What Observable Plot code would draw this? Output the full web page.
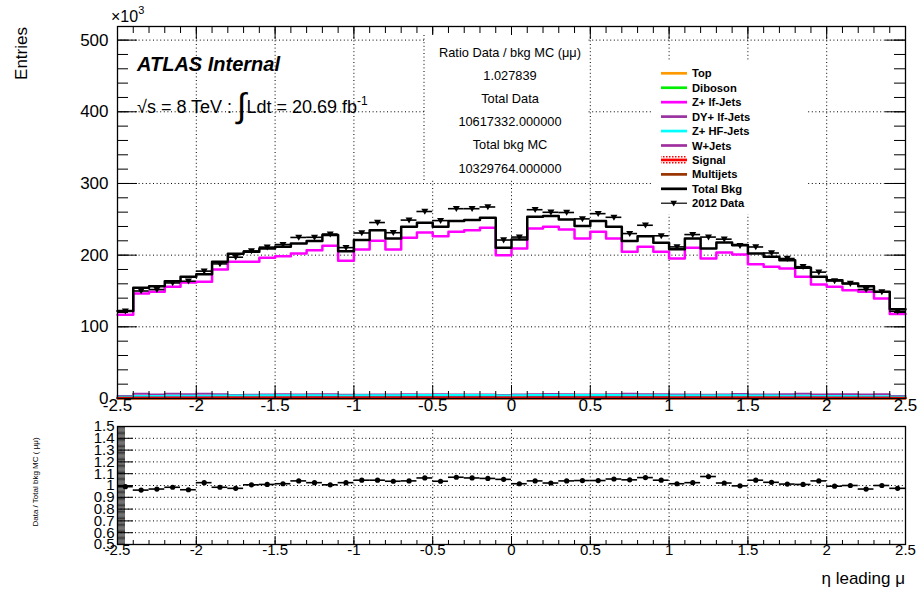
<!DOCTYPE html>
<html><head><meta charset="utf-8">
<script src="https://cdn.jsdelivr.net/npm/d3@7"></script>
<script src="https://cdn.jsdelivr.net/npm/@observablehq/plot@0.6"></script>
<style>
body{margin:0;background:#fff;}
#wrap{position:relative;width:922px;height:594px;overflow:hidden;background:#fff;}
#wrap svg{position:absolute;left:0;}
</style></head><body><div id="wrap"></div>
<script>
// ---------- data ----------
const binEdges = [-2.5,-2.4,-2.3,-2.2,-2.1,-2.0,-1.9,-1.8,-1.7,-1.6,-1.5,-1.4,-1.3,-1.2,-1.1,-1.0,-0.9,-0.8,-0.7,-0.6,-0.5,-0.4,-0.3,-0.2,-0.1,0.0,
  0.1,0.2,0.3,0.4,0.5,0.6,0.7,0.8,0.9,1.0,1.1,1.2,1.3,1.4,1.5,1.6,1.7,1.8,1.9,2.0,2.1,2.2,2.3,2.4,2.5];
const totalBkg = [122,154.4,156.7,163.7,169.7,173.5,190.7,201.9,204.7,209.3,211.6,216.3,219.6,228,205.6,221,234.9,223.3,239.6,245.2,239.6,247.5,248.9,252.1,210.2,
  221.9,253.5,254.5,249.8,240.5,247.5,239.6,219.6,226.5,217.2,208.4,223.3,209.3,217.7,214,202.3,197.7,193,182.3,169.7,165.1,160.4,156.7,148.8,124.6];
const zLfJets = [117,146.5,148.8,155.8,161.8,162.8,180,190.7,190.7,196.3,198.6,202.3,207,213,192.1,208,220,208,224.2,231.7,226.5,232.6,234.9,238.2,200,
  209.3,237.2,239.6,235.8,223.3,232.6,223.3,204.7,211.6,204.7,195.3,210.2,195.3,203.7,200.9,187.4,183.7,181.4,169.7,159,155.8,151.1,148.8,139.5,118];
const data2012 = [121.8,150,152,161.2,163.6,177.7,187.8,197.1,205.9,211.2,214.8,224.7,224.9,229.4,210.5,230.9,245.5,231.3,248.9,260.9,248.2,264.8,264.8,267.2,221.1,
  225.2,263.4,259.8,259.5,250.6,257.9,252.8,230.1,241.7,227,211.5,228.7,225.2,222.3,213.4,211.4,203,195.3,183.9,176.3,164.1,160.4,152,148.8,121.6];
const ratio = [0.99,0.961,0.97,0.985,0.964,1.024,0.985,0.976,1.006,1.009,1.015,1.039,1.024,1.006,1.024,1.045,1.045,1.036,1.039,1.064,1.036,1.07,1.064,1.06,1.052,
  1.015,1.039,1.021,1.039,1.042,1.042,1.055,1.048,1.067,1.045,1.015,1.024,1.076,1.021,0.997,1.045,1.027,1.012,1.009,1.039,0.994,1.0,0.97,1.0,0.976];
const dyLfJets = [3.5,6.5,5.5,6.8,6.0,6.5,5.8,5.0,5.2,5.5,6.0,5.6,5.8,6.0,5.2,5.4,5.6,5.5,5.8,5.6,5.8,5.5,5.6,5.7,5.0,
  5.6,6.0,6.2,5.8,5.5,5.6,5.8,6.5,5.8,6.0,5.5,5.6,5.4,5.5,6.2,5.7,5.5,6.0,6.5,5.6,5.8,6.0,5.5,5.8,3.5];
const zHfJets = [2.5,3.5,3.6,3.8,3.9,4.0,4.2,4.3,4.3,4.4,4.4,4.5,4.5,4.6,4.2,4.5,4.7,4.5,4.8,4.9,4.8,4.9,5.0,5.0,4.3,
  4.4,5.0,5.0,4.9,4.8,4.9,4.8,4.5,4.6,4.4,4.2,4.5,4.3,4.4,4.4,4.2,4.1,4.0,3.8,3.6,3.5,3.4,3.3,3.2,2.5];
const wJets = [1.2,1.5,1.5,1.6,1.6,1.7,1.8,1.8,1.9,1.9,1.9,2.0,2.0,2.0,1.8,2.0,2.1,2.0,2.1,2.1,2.1,2.2,2.2,2.2,1.9,
  1.9,2.2,2.2,2.2,2.1,2.1,2.1,2.0,2.0,2.0,1.8,2.0,1.9,1.9,1.9,1.8,1.8,1.7,1.6,1.6,1.5,1.5,1.5,1.4,1.2];
const multijets = [0.9,1.1,1.1,1.2,1.2,1.2,1.3,1.3,1.3,1.3,1.4,1.4,1.4,1.4,1.3,1.4,1.4,1.4,1.4,1.5,1.4,1.5,1.5,1.5,1.3,
  1.3,1.5,1.5,1.5,1.4,1.5,1.4,1.4,1.4,1.4,1.3,1.4,1.3,1.3,1.3,1.3,1.3,1.2,1.2,1.2,1.1,1.1,1.1,1.0,0.9];
const signal = [0.3,0.4,0.4,0.4,0.4,0.4,0.5,0.5,0.5,0.5,0.5,0.5,0.5,0.5,0.5,0.5,0.5,0.5,0.5,0.5,0.5,0.5,0.5,0.5,0.5,
  0.5,0.5,0.5,0.5,0.5,0.5,0.5,0.5,0.5,0.5,0.5,0.5,0.5,0.5,0.5,0.5,0.5,0.5,0.5,0.4,0.4,0.4,0.4,0.4,0.3];
const topQuark = [0.4,0.5,0.5,0.5,0.5,0.6,0.6,0.6,0.6,0.6,0.6,0.7,0.7,0.7,0.6,0.7,0.7,0.7,0.7,0.7,0.7,0.7,0.7,0.7,0.6,
  0.6,0.7,0.7,0.7,0.7,0.7,0.7,0.7,0.7,0.7,0.6,0.7,0.6,0.6,0.6,0.6,0.6,0.6,0.6,0.5,0.5,0.5,0.5,0.5,0.4];
const diboson = [0.3,0.3,0.3,0.3,0.3,0.3,0.4,0.4,0.4,0.4,0.4,0.4,0.4,0.4,0.4,0.4,0.4,0.4,0.4,0.4,0.4,0.4,0.4,0.4,0.4,
  0.4,0.4,0.4,0.4,0.4,0.4,0.4,0.4,0.4,0.4,0.4,0.4,0.4,0.4,0.4,0.4,0.4,0.4,0.4,0.3,0.3,0.3,0.3,0.3,0.3];

const xTicks = [-2.5,-2,-1.5,-1,-0.5,0,0.5,1,1.5,2,2.5];
const xTickLabels = ["-2.5","-2","-1.5","-1","-0.5","0","0.5","1","1.5","2","2.5"];
const xGrid = [-2,-1.5,-1,-0.5,0,0.5,1,1.5,2];
const yTicksMain = [0,100,200,300,400,500];
const yLabelsMain = ["0","100","200","300","400","500"];
const yGridMain = [100,200,300,400,500];
const ratioTicks = [0.5,0.6,0.7,0.8,0.9,1.0,1.1,1.2,1.3,1.4,1.5];
const ratioLabels = ["0.5","0.6","0.7","0.8","0.9","1","1.1","1.2","1.3","1.4","1.5"];
const ratioGrid = [0.6,0.7,0.8,0.9,1.0,1.1,1.2,1.3,1.4];

const legendItems = [
  {name:"Top", color:"#ff9900"},
  {name:"Diboson", color:"#00ee00"},
  {name:"Z+ lf-Jets", color:"#ff00ff"},
  {name:"DY+ lf-Jets", color:"#9933a0"},
  {name:"Z+ HF-Jets", color:"#00ffff"},
  {name:"W+Jets", color:"#a030a0"},
  {name:"Signal", color:"#ff0000"},
  {name:"Multijets", color:"#993300"},
  {name:"Total Bkg", color:"#000000"},
  {name:"2012 Data", color:"#333333"}
];
const statLines = ["Ratio Data / bkg MC (\u03bc\u03bc)","1.027839","Total Data","10617332.000000","Total bkg MC","10329764.000000"];

// ---------- helpers ----------
const FONT = "'Liberation Sans', Arial, Helvetica, sans-serif";
const xMinor = d3.range(-2.5, 2.5001, 0.1).map(v => +v.toFixed(2));
const yMinorMain = d3.range(0, 519, 20);
const ratioMinor = d3.range(0.5, 1.5001, 0.01).map(v => +v.toFixed(3));
const stepPts = vals => binEdges.map((e, i) => ({x: e, y: vals[Math.min(i, vals.length - 1)]}));
const rows = totalBkg.map((v, i) => ({x0: binEdges[i], x1: binEdges[i+1], xc: (binEdges[i] + binEdges[i+1]) / 2, data: data2012[i], ratio: ratio[i]}));
const downTri = {draw(ctx, size){ const r = Math.sqrt(size/Math.PI); ctx.moveTo(-1.25*r, -0.95*r); ctx.lineTo(1.25*r, -0.95*r); ctx.lineTo(0, 1.2*r); ctx.closePath(); }};
const dots = {stroke:"#000", strokeWidth:1, strokeDasharray:"1,2.6"};

const FW = 788, FH = 372, RH = 118;
const stepLine = (vals, color, w) => Plot.line(stepPts(vals), {x:"x", y:"y", curve:"step-after", stroke:color, strokeWidth:w});

const mainPlot = Plot.plot({
  width: 922, height: 420,
  marginLeft: 117, marginRight: 17, marginTop: 26, marginBottom: 22,
  x: {domain: [-2.5, 2.5], axis: null},
  y: {domain: [0, 519], axis: null},
  style: {fontFamily: FONT, color: "#000", background: "transparent", overflow: "visible"},
  marks: [
    Plot.ruleX(xGrid, dots),
    Plot.ruleY(yGridMain, dots),
    stepLine(dyLfJets, "#9933a0", 2),
    stepLine(zHfJets, "#00ffff", 2),
    stepLine(wJets, "#a030a0", 2),
    stepLine(topQuark, "#ff9900", 2),
    stepLine(diboson, "#00ee00", 2),
    stepLine(multijets, "#993300", 2),
    stepLine(signal, "#ff0000", 2.5),
    stepLine(zLfJets, "#ff00ff", 2.5),
    stepLine(totalBkg, "#000000", 2.5),
    Plot.ruleY(rows, {y:"data", x1:"x0", x2:"x1", stroke:"#000", strokeWidth:1.6}),
    Plot.dot(rows, {x:"xc", y:"data", symbol: downTri, r: 2.8, fill:"#000", stroke:"none"}),
    Plot.ruleY(yTicksMain, {stroke:"#000", insetRight: FW - 20}),
    Plot.ruleY(yTicksMain, {stroke:"#000", insetLeft: FW - 20}),
    Plot.ruleY(yMinorMain, {stroke:"#000", insetRight: FW - 11}),
    Plot.ruleY(yMinorMain, {stroke:"#000", insetLeft: FW - 11}),
    Plot.ruleX(xTicks, {stroke:"#000", insetTop: FH - 13}),
    Plot.ruleX(xTicks, {stroke:"#000", insetBottom: FH - 13}),
    Plot.ruleX(xMinor, {stroke:"#000", insetTop: FH - 7}),
    Plot.ruleX(xMinor, {stroke:"#000", insetBottom: FH - 7}),
    Plot.frame({stroke:"#000", strokeWidth:1.3}),
    Plot.text(yTicksMain, {y: d => d, text: (d, i) => yLabelsMain[i], frameAnchor:"left", textAnchor:"end", dx:-9, fontSize:17, fill:"#000"}),
    Plot.text(xTicks, {x: d => d, text: (d, i) => xTickLabels[i], frameAnchor:"bottom", dy:12, fontSize:17, fill:"#000"})
  ]
});

const ratioPlot = Plot.plot({
  width: 922, height: 174,
  marginLeft: 117, marginRight: 17, marginTop: 6, marginBottom: 50,
  x: {domain: [-2.5, 2.5], axis: null},
  y: {domain: [0.5, 1.5], axis: null},
  style: {fontFamily: FONT, color: "#000", background: "transparent", overflow: "visible"},
  marks: [
    Plot.ruleX(xGrid, dots),
    Plot.ruleY(ratioGrid, dots),
    Plot.ruleY(rows, {y:"ratio", x1:"x0", x2:"x1", stroke:"#000", strokeWidth:1.6}),
    Plot.dot(rows, {x:"xc", y:"ratio", r:2.6, fill:"#000", stroke:"none"}),
    Plot.ruleY(ratioTicks, {stroke:"#000", insetRight: FW - 16}),
    Plot.ruleY(ratioMinor, {stroke:"#000", strokeWidth:0.8, insetRight: FW - 8}),
    Plot.ruleX(xTicks, {stroke:"#000", insetTop: RH - 8}),
    Plot.ruleX(xMinor, {stroke:"#000", insetTop: RH - 4}),
    Plot.frame({stroke:"#000", strokeWidth:1.3}),
    Plot.text(ratioTicks, {y: d => d, text: (d, i) => ratioLabels[i], frameAnchor:"left", textAnchor:"end", dx:-3, fontSize:15, fill:"#000"}),
    Plot.text(xTicks, {x: d => d, text: (d, i) => xTickLabels[i], frameAnchor:"bottom", dy:10, fontSize:15, fill:"#000"})
  ]
});

const wrap = document.getElementById("wrap");
mainPlot.style.top = "0px";
ratioPlot.style.top = "420px";
wrap.appendChild(mainPlot);
wrap.appendChild(ratioPlot);

// ---------- annotations overlay ----------
const ov = d3.select(wrap).append("svg").attr("width", 922).attr("height", 594)
  .style("top", "0px").style("font-family", FONT).style("pointer-events", "none");
const defs = ov.append("defs");
const pat = defs.append("pattern").attr("id", "sighatch").attr("width", 3).attr("height", 3).attr("patternUnits", "userSpaceOnUse");
pat.append("rect").attr("width", 1.5).attr("height", 1.5).attr("fill", "#ff0000");

// stats box
ov.append("rect").attr("x", 424).attr("y", 35).attr("width", 164).attr("height", 145).attr("fill", "#fff");
ov.append("line").attr("x1", 424).attr("x2", 424).attr("y1", 35).attr("y2", 180).attr("stroke", "#000").attr("stroke-dasharray", "1,2.6");
statLines.forEach((t, i) => {
  ov.append("text").attr("x", 510).attr("y", 56.5 + i * 23.2).attr("text-anchor", "middle").attr("font-size", 12.8).text(t);
});

// legend box
ov.append("rect").attr("x", 652).attr("y", 62).attr("width", 156).attr("height", 152).attr("fill", "#fff");
legendItems.forEach((d, i) => {
  const y = 73.3 + i * 14.44;
  if (d.name === "Signal") {
    ov.append("rect").attr("x", 661).attr("y", y - 5).attr("width", 26).attr("height", 10).attr("fill", "url(#sighatch)");
  }
  ov.append("line").attr("x1", 661).attr("x2", 687).attr("y1", y).attr("y2", y)
    .attr("stroke", d.color).attr("stroke-width", d.name === "2012 Data" ? 1.5 : 2.7);
  if (d.name === "2012 Data") {
    ov.append("path").attr("d", `M${673.7-3.3},${y-2.6}L${673.7+3.3},${y-2.6}L${673.7},${y+3.2}Z`).attr("fill", "#000");
  }
  ov.append("text").attr("x", 692).attr("y", y + 4).attr("font-size", 11.2).attr("font-weight", "bold").text(d.name);
});

// ATLAS label
ov.append("text").attr("x", 137).attr("y", 71).attr("font-size", 20).attr("font-weight", "bold").attr("font-style", "italic").text("ATLAS Internal");
const lum = ov.append("text").attr("x", 137).attr("y", 113).attr("font-size", 18);
lum.append("tspan").text("\u221As = 8 TeV : ");
lum.append("tspan").attr("font-size", 34).attr("dy", 4).text("\u222B");
lum.append("tspan").attr("dy", -4).text("Ldt = 20.69 fb");
lum.append("tspan").attr("font-size", 12).attr("dy", -8).text("-1");

// axis titles
const x10 = ov.append("text").attr("x", 111).attr("y", 22).attr("font-size", 16);
x10.append("tspan").text("\u00d710");
x10.append("tspan").attr("font-size", 11).attr("dy", -8).text("3");
ov.append("text").attr("transform", "translate(27,27) rotate(-90)").attr("text-anchor", "end").attr("font-size", 17).text("Entries");
ov.append("text").attr("transform", "translate(38,482) rotate(-90)").attr("text-anchor", "middle").attr("font-size", 8).text("Data / Total bkg MC ( \u03bc\u03bc)");
ov.append("text").attr("x", 905).attr("y", 584).attr("text-anchor", "end").attr("font-size", 17).text("\u03b7 leading \u03bc");
</script></body></html>
